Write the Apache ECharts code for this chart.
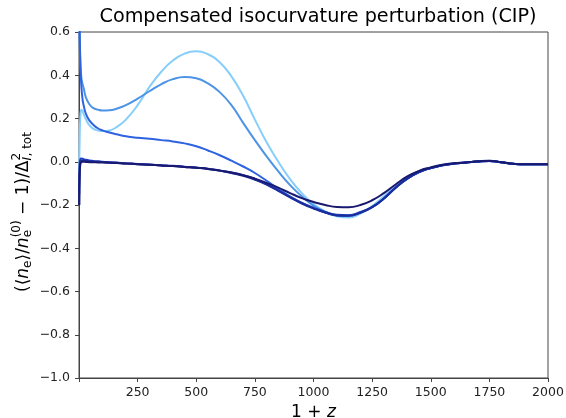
<!DOCTYPE html>
<html><head><meta charset="utf-8">
<script src="https://cdn.jsdelivr.net/npm/echarts@6/dist/echarts.min.js"></script>
<style>html,body{margin:0;padding:0;background:#fff}#c{width:566px;height:418px}</style>
</head><body><div id="c"></div>
<script>
const xs = [1,3,6,10,15,20,30,45,60,80,100,130,160,200,250,300,350,400,450,500,550,600,650,700,750,800,850,900,950,1000,1050,1100,1150,1200,1250,1300,1350,1400,1450,1500,1550,1600,1650,1700,1750,1800,1850,1900,1950,2000];
const tail = [-0.21,-0.17,-0.12,-0.078,-0.048,-0.029,-0.016,-0.008,-0.004,0.001,0.004,-0.002,-0.009,-0.012,-0.012,-0.011];
const s1 = [-0.05,0.12,0.21,0.24,0.235,0.22,0.195,0.168,0.153,0.145,0.142,0.145,0.16,0.195,0.262,0.345,0.415,0.468,0.5,0.511,0.497,0.46,0.395,0.305,0.195,0.09,0.0,-0.08,-0.145,-0.195,-0.23,-0.252,-0.258,-0.24,-0.205,-0.16,-0.11,-0.07,-0.043,-0.026,-0.014,-0.007,-0.003,0.002,0.005,-0.002,-0.009,-0.012,-0.012,-0.011];
const s2 = [0.75,0.55,0.45,0.39,0.36,0.34,0.295,0.265,0.249,0.241,0.237,0.238,0.245,0.262,0.292,0.326,0.358,0.382,0.392,0.386,0.362,0.322,0.262,0.18,0.1,0.025,-0.045,-0.108,-0.16,-0.203,-0.232,-0.247,-0.25,-0.235].concat(tail);
const s3 = [0.9,0.6,0.45,0.35,0.29,0.26,0.22,0.19,0.172,0.155,0.145,0.135,0.127,0.118,0.111,0.106,0.1,0.094,0.085,0.072,0.052,0.03,0.005,-0.022,-0.052,-0.088,-0.125,-0.16,-0.19,-0.215,-0.235,-0.248,-0.25,-0.235].concat(tail);
const s4 = [-0.15,-0.01,0.012,0.015,0.014,0.012,0.009,0.006,0.004,0.002,0.0,-0.002,-0.004,-0.007,-0.01,-0.013,-0.016,-0.019,-0.023,-0.027,-0.032,-0.04,-0.05,-0.062,-0.08,-0.103,-0.132,-0.162,-0.19,-0.213,-0.232,-0.245,-0.247,-0.232].concat(tail);
const s5 = [-0.2,-0.03,0.0,0.006,0.006,0.005,0.003,0.002,0.001,0.0,-0.001,-0.003,-0.005,-0.008,-0.011,-0.014,-0.017,-0.02,-0.024,-0.028,-0.033,-0.041,-0.052,-0.065,-0.083,-0.106,-0.135,-0.165,-0.193,-0.216,-0.235,-0.248,-0.25,-0.236].concat(tail);
const s6 = [-0.2,-0.05,-0.01,-0.002,0.0,0.0,-0.001,-0.002,-0.002,-0.003,-0.004,-0.005,-0.006,-0.008,-0.011,-0.014,-0.017,-0.02,-0.024,-0.028,-0.033,-0.041,-0.05,-0.062,-0.078,-0.098,-0.12,-0.145,-0.168,-0.186,-0.2,-0.209,-0.21,-0.2,-0.178,-0.145,-0.105,-0.068,-0.042,-0.026,-0.014,-0.007,-0.003,0.002,0.005,-0.002,-0.009,-0.012,-0.012,-0.011];
const seriesValues = [s1,s2,s3,s4,s5,s6];
const colors = ['#87cefa','#4d94e6','#2d62e0','#1f40c4','#1c2c98','#191970'];
const xTicks = [250,500,750,1000,1250,1500,1750,2000];
const titleText = 'Compensated isocurvature perturbation (CIP)';

const font = 'DejaVu Sans';

// y-axis label pieces laid out with measured widths
const ctx = document.createElement('canvas').getContext('2d');
const mw = (t, size, italic) => { ctx.font = (italic?'italic ':'') + size + 'px "' + font + '"'; return ctx.measureText(t).width; };
const BIG = 17, SM = 12, SUB = 4, SUP = -7;
const pieces = [
  [['(\u27e8', BIG, false, 0]],
  [['n', BIG, true, 0]],
  [['e', SM, false, SUB]],
  [['\u27e9/', BIG, false, 0]],
  [['n', BIG, true, 0]],
  [['(0)', SM, false, SUP], ['e', SM, false, SUB]],
  [[' \u2212 1)/\u0394', BIG, false, 0]],
  [['2', SM, false, SUP], ['I', SM, true, SUB, ', tot']]
];
const children = [];
let cx = 0;
pieces.forEach(group => {
  let adv = 0;
  group.forEach(p => {
    let w = mw(p[0], p[1], p[2]);
    children.push({type:'text', x:cx, y:p[3], style:{text:p[0], font:(p[2]?'italic ':'')+p[1]+'px "'+font+'"', fill:'#000', verticalAlign:'middle', align:'left'}});
    if (p[4]) {
      children.push({type:'text', x:cx + w + 0.5, y:p[3], style:{text:p[4], font:p[1]+'px "'+font+'"', fill:'#000', verticalAlign:'middle', align:'left'}});
      w += 0.5 + mw(p[4], p[1], false);
    }
    adv = Math.max(adv, w);
  });
  cx += adv;
});
const totalW = cx;
children.forEach(c => { c.x -= totalW / 2; });

const chart = echarts.init(document.getElementById('c'), null, {renderer:'canvas'});
const fmtY = v => { const s = (Math.abs(v) < 1e-9 ? 0 : v).toFixed(1); return s.replace('-', '\u2212'); };
chart.setOption({
  animation:false,
  backgroundColor:'#fff',
  title:{text:titleText,left:313,top:3,textAlign:'center',textStyle:{fontFamily:font,fontSize:19.2,fontWeight:'normal',color:'#000'}},
  grid:{left:79,right:18,top:32,bottom:40,outerBoundsMode:'none',containLabel:false,show:true,borderColor:'#444',borderWidth:1,backgroundColor:'transparent'},
  xAxis:{type:'value',min:0,max:2000,interval:250,
    axisLine:{show:true,onZero:false,lineStyle:{color:'#444',width:1}},
    axisTick:{show:true,length:4,lineStyle:{color:'#444'}},
    splitLine:{show:false},
    axisLabel:{fontFamily:font,fontSize:12.5,color:'#222',margin:8,formatter:v=> xTicks.includes(v)?String(v):''},
    name:'{t|1 + }{i|z}',nameLocation:'middle',nameGap:24,
    nameTextStyle:{rich:{t:{fontFamily:font,fontSize:17,color:'#000'},i:{fontFamily:font,fontSize:17,fontStyle:'italic',color:'#000'}}}
  },
  yAxis:{type:'value',min:-1,max:0.6,interval:0.2,
    axisLine:{show:true,onZero:false,lineStyle:{color:'#444',width:1}},
    axisTick:{show:true,length:4,lineStyle:{color:'#444'}},
    splitLine:{show:false},
    axisLabel:{fontFamily:font,fontSize:12.5,color:'#222',margin:9,formatter:fmtY}
  },
  graphic:[{type:'group', x:24, y:212, rotation:Math.PI/2, children:children}],
  series: seriesValues.map((vals,k)=>({
    type:'line', data: xs.map((x,i)=>[x, vals[i]]), showSymbol:false, smooth:0.5,
    lineStyle:{color:colors[k],width:2}, itemStyle:{color:colors[k]}, clip:true, z:2+k
  }))
});
</script></body></html>
